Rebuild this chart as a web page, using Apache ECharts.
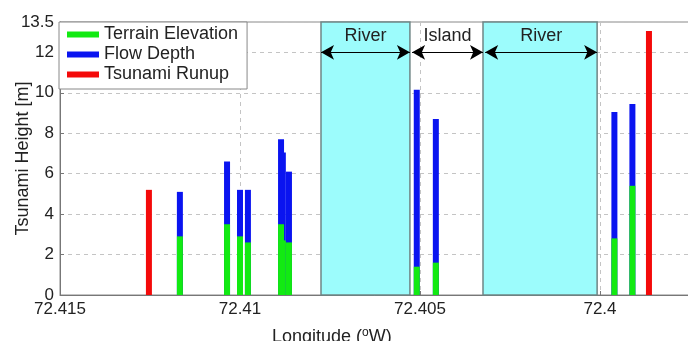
<!DOCTYPE html>
<html>
<head>
<meta charset="utf-8">
<script src="https://cdn.jsdelivr.net/npm/echarts@6/dist/echarts.min.js"></script>
<style>
  html, body { margin: 0; padding: 0; background: #fff; }
  #chart { width: 688px; height: 341px; }
</style>
</head>
<body>
<div id="chart"></div>
<script>
// survey points, longitude in degrees W
const surveyLon = [72.41167, 72.41036, 72.41, 72.40978, 72.40886, 72.40881, 72.40864, 72.40509, 72.40456, 72.3996, 72.3991];
const terrainElevation = [2.9, 3.5, 2.9, 2.6, 3.5, 2.7, 2.6, 1.4, 1.6, 2.8, 5.4];
const flowDepth = [2.2, 3.1, 2.3, 2.6, 4.2, 4.35, 3.5, 8.75, 7.1, 6.25, 4.05];

const runupLon = [72.41253, 72.39864];
const runupHeight = [5.2, 13.05];

// water / land zones across the transect
const zoneNames = ['River', 'Island', 'River'];
const zoneStart = [72.40775, 72.40522, 72.40319];
const zoneEnd = [72.40528, 72.40325, 72.40008];
const riverZones = [[72.40775, 72.40528], [72.40325, 72.40008]];
const arrowLevel = 12;

const yMax = 13.5;

const FONT = '"Liberation Sans", Arial, sans-serif';
const chart = echarts.init(document.getElementById('chart'));

const option = {
  animation: false,
  textStyle: { fontFamily: FONT },
  title: {
    text: 'Longitude ({sup|o}W)',
    left: 267,
    top: 322,
    textStyle: {
      fontFamily: FONT,
      fontSize: 18,
      fontWeight: 'normal',
      color: '#222',
      rich: {
        sup: { fontFamily: FONT, fontSize: 12, color: '#222', padding: [0, 0, 9, 0] }
      }
    }
  },
  legend: {
    orient: 'vertical',
    left: 59,
    top: 22,
    data: ['Terrain Elevation', 'Flow Depth', 'Tsunami Runup'],
    icon: 'rect',
    itemWidth: 32,
    itemHeight: 6,
    itemGap: 1,
    padding: [3, 9, 5, 8],
    backgroundColor: '#fff',
    borderColor: '#888',
    borderWidth: 1,
    borderRadius: 0,
    textStyle: { fontFamily: FONT, fontSize: 18, color: '#222', lineHeight: 19 }
  },
  grid: {
    left: 60,
    top: 22,
    bottom: 46,
    width: 720,
    outerBoundsMode: 'none',
    containLabel: false,
    show: true,
    borderColor: '#888',
    borderWidth: 1
  },
  xAxis: {
    type: 'value',
    inverse: true,
    min: 72.395,
    max: 72.415,
    interval: 0.005,
    axisLine: { lineStyle: { color: '#777' } },
    axisTick: { inside: true, length: 4, lineStyle: { color: '#777' } },
    axisLabel: {
      fontFamily: FONT,
      fontSize: 17,
      color: '#222',
      margin: 6,
      formatter: v => String(+v.toFixed(3))
    },
    splitLine: { show: true, lineStyle: { color: '#c4c4c4', type: [4, 4] } }
  },
  yAxis: {
    type: 'value',
    min: 0,
    max: yMax,
    interval: 2,
    name: 'Tsunami Height [m]',
    nameLocation: 'middle',
    nameGap: 28,
    nameMoveOverlap: false,
    nameTextStyle: { fontFamily: FONT, fontSize: 18, color: '#222' },
    axisLine: { show: true, lineStyle: { color: '#777' } },
    axisTick: { show: true, inside: true, length: 4, lineStyle: { color: '#777' } },
    axisLabel: { fontFamily: FONT, fontSize: 17, color: '#222', margin: 6 },
    splitLine: { show: true, lineStyle: { color: '#c4c4c4', type: [4, 4] } }
  },
  series: [
    {
      name: 'Flow Depth',
      type: 'bar',
      barWidth: 6,
      barGap: '-100%',
      itemStyle: { color: '#0a14f0' },
      data: surveyLon.map((x, i) => [x, +(terrainElevation[i] + flowDepth[i]).toFixed(2)]),
      markArea: {
        silent: true,
        itemStyle: { color: '#9cfcfc', opacity: 1, borderColor: '#6f8585', borderWidth: 1.5 },
        label: { show: false },
        data: riverZones.map(z => [{ xAxis: z[0], yAxis: 0 }, { xAxis: z[1], yAxis: yMax }])
      },
      markLine: {
        silent: true,
        symbol: ['arrow', 'arrow'],
        symbolSize: [11, 13],
        lineStyle: { color: '#000', width: 1, type: 'solid' },
        itemStyle: { color: '#000' },
        label: {
          show: true,
          position: 'insideMiddleTop',
          distance: 7,
          formatter: '{b}',
          fontFamily: FONT,
          fontSize: 18,
          color: '#222'
        },
        data: zoneNames.map((n, i) => [
          { name: n, coord: [zoneStart[i], arrowLevel] },
          { coord: [zoneEnd[i], arrowLevel] }
        ])
      }
    },
    {
      name: 'Terrain Elevation',
      type: 'bar',
      barWidth: 6,
      barGap: '-100%',
      itemStyle: { color: '#12ea12' },
      data: surveyLon.map((x, i) => [x, terrainElevation[i]])
    },
    {
      name: 'Tsunami Runup',
      type: 'bar',
      barWidth: 6,
      barGap: '-100%',
      itemStyle: { color: '#f40a0a' },
      data: runupLon.map((x, i) => [x, runupHeight[i]])
    }
  ]
};

chart.setOption(option);
</script>
</body>
</html>
